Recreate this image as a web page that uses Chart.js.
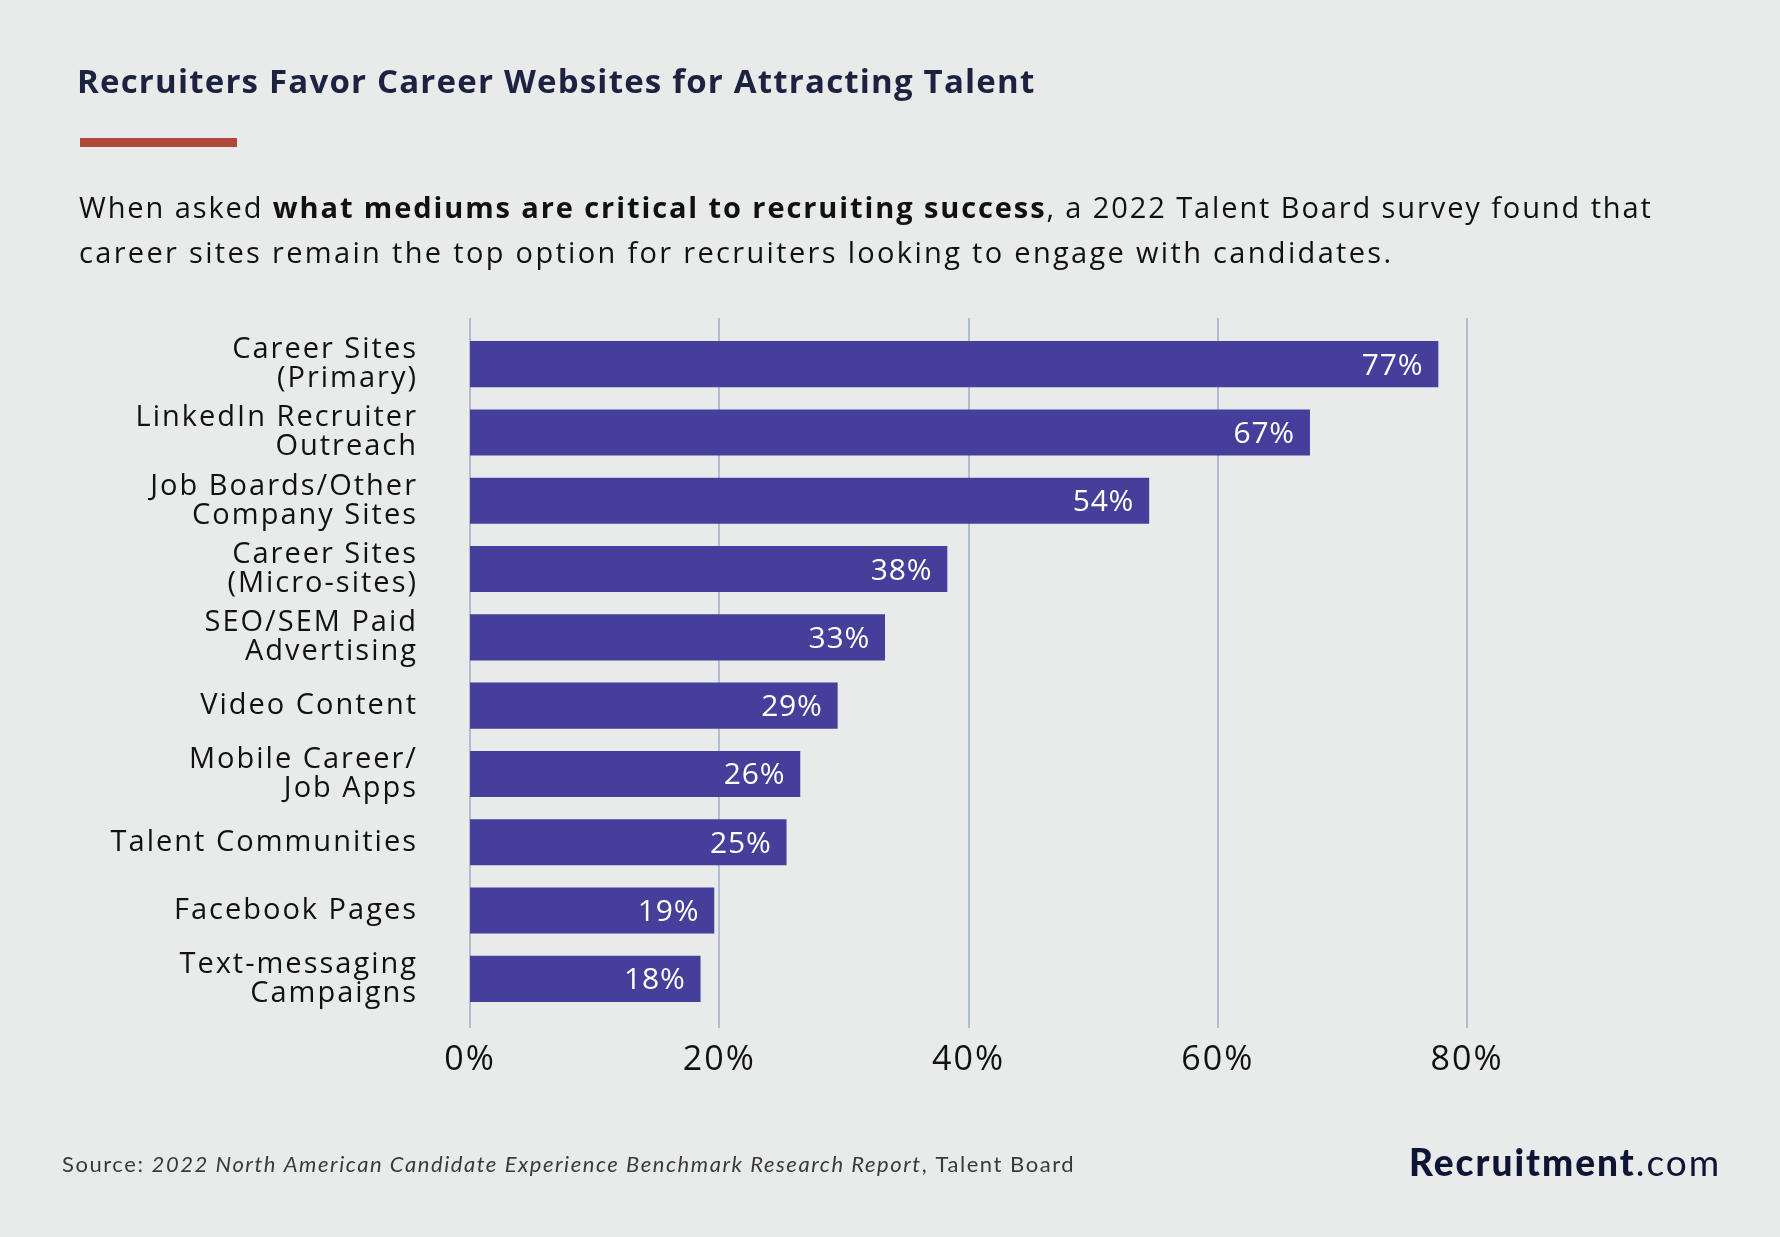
<!DOCTYPE html>
<html>
<head>
<meta charset="utf-8">
<script src="https://cdn.jsdelivr.net/npm/chart.js@4.4.1/dist/chart.umd.min.js"></script>
<style>
  html, body { margin: 0; padding: 0; background: #e9ebea; }
  #wrap { position: relative; width: 1780px; height: 1237px; }
</style>
</head>
<body>
<div id="wrap"><canvas id="chart" width="1780" height="1237"></canvas></div>
<script>
// ------------------------------------------------------------------
// Data
// ------------------------------------------------------------------
const categories = [
  ['Career Sites', '(Primary)'],
  ['LinkedIn Recruiter', 'Outreach'],
  ['Job Boards/Other', 'Company Sites'],
  ['Career Sites', '(Micro-sites)'],
  ['SEO/SEM Paid', 'Advertising'],
  'Video Content',
  ['Mobile Career/', 'Job Apps'],
  'Talent Communities',
  'Facebook Pages',
  ['Text-messaging', 'Campaigns'],
];
const barValues   = [77.7, 67.4, 54.5, 38.3, 33.3, 29.5, 26.5, 25.4, 19.6, 18.5];
const valueLabels = ['77%', '67%', '54%', '38%', '33%', '29%', '26%', '25%', '19%', '18%'];
const xTicks      = [0, 20, 40, 60, 80];

const BAR   = '#443f9b';
const GRID  = '#b3bdd2';
const INK   = '#111111';
const FONT  = '"Open Sans", "Noto Sans", sans-serif';

// Draw a row of text runs with different fonts, left to right.
function drawRuns(ctx, runs, x, y) {
  for (const r of runs) {
    ctx.font = r.font;
    ctx.fillText(r.t, x, y);
    x += ctx.measureText(r.t).width;
  }
}

// Title, subtitle, footer and logo.
const headerPlugin = {
  id: 'header',
  beforeDraw(chart) {
    const ctx = chart.ctx;
    ctx.save();
    ctx.fillStyle = '#e9ebea';
    ctx.fillRect(0, 0, chart.width, chart.height);
    ctx.textBaseline = 'alphabetic';
    ctx.textAlign = 'left';

    ctx.fillStyle = '#1d2240';
    ctx.letterSpacing = '1.2px';
    ctx.font = '700 33px ' + FONT;
    ctx.fillText('Recruiters Favor Career Websites for Attracting Talent', 77, 93);

    ctx.fillStyle = '#b0483a';
    ctx.fillRect(80, 138, 157, 9);

    ctx.fillStyle = INK;
    ctx.letterSpacing = '1.9px';
    drawRuns(ctx, [
      { t: 'When asked ', font: '400 29px ' + FONT },
      { t: 'what mediums are critical to recruiting success', font: '700 29px ' + FONT },
      { t: ', a 2022 Talent Board survey found that', font: '400 29px ' + FONT },
    ], 79, 218);
    ctx.letterSpacing = '2.32px';
    drawRuns(ctx, [
      { t: 'career sites remain the top option for recruiters looking to engage with candidates.', font: '400 29px ' + FONT },
    ], 79, 263);

    ctx.fillStyle = '#3a3a3a';
    ctx.letterSpacing = '1.55px';
    drawRuns(ctx, [
      { t: 'Source: ', font: '400 22px Lato, sans-serif' },
      { t: '2022 North American Candidate Experience Benchmark Research Report', font: 'italic 400 22px Lato, sans-serif' },
      { t: ', Talent Board', font: '400 22px Lato, sans-serif' },
    ], 62, 1172);

    ctx.fillStyle = '#0e1433';
    ctx.letterSpacing = '2px';
    drawRuns(ctx, [
      { t: 'Recruitment', font: '900 37px Lato, sans-serif' },
      { t: '.com', font: '400 37px Lato, sans-serif' },
    ], 1409, 1176);
    ctx.restore();

    // axis labels in the reference are tracked out a little
    ctx.letterSpacing = '2px';
  },
};

// Vertical gridlines that run a little past the plot area.
const gridPlugin = {
  id: 'extGrid',
  beforeDatasetsDraw(chart) {
    const { ctx, chartArea, scales } = chart;
    ctx.save();
    ctx.strokeStyle = GRID;
    ctx.lineWidth = 2;
    for (const v of xTicks) {
      const x = Math.round(scales.x.getPixelForValue(v));
      ctx.beginPath();
      ctx.moveTo(x, chartArea.top - 12);
      ctx.lineTo(x, chartArea.bottom + 15);
      ctx.stroke();
    }
    ctx.restore();
  },
};

// White percentage labels inside the bar ends.
const valuePlugin = {
  id: 'values',
  afterDatasetsDraw(chart) {
    const ctx = chart.ctx;
    const meta = chart.getDatasetMeta(0);
    ctx.save();
    ctx.fillStyle = '#ffffff';
    ctx.letterSpacing = '0.8px';
    ctx.font = '400 30px ' + FONT;
    ctx.textAlign = 'right';
    ctx.textBaseline = 'middle';
    meta.data.forEach((bar, i) => {
      ctx.fillText(valueLabels[i], bar.x - 15, bar.y + 2);
    });
    ctx.restore();
  },
};

new Chart(document.getElementById('chart'), {
  type: 'bar',
  data: {
    labels: categories,
    datasets: [{
      data: barValues,
      backgroundColor: BAR,
      borderWidth: 0,
      barPercentage: 0.675,
      categoryPercentage: 1,
    }],
  },
  options: {
    indexAxis: 'y',
    responsive: false,
    animation: false,
    layout: { padding: { top: 330, right: 313, bottom: 134, left: 0 } },
    plugins: {
      legend:  { display: false },
      tooltip: { enabled: false },
    },
    scales: {
      x: {
        min: 0,
        max: 80,
        grid:   { display: false },
        border: { display: false },
        afterBuildTicks: (s) => { s.ticks = xTicks.map(v => ({ value: v })); },
        afterFit: (s) => { s.height = 90; },
        ticks: {
          color: INK,
          padding: 19,
          font: { family: FONT, size: 34 },
          callback: (v) => v + '%',
        },
      },
      y: {
        grid:   { display: false, drawTicks: false },
        border: { display: false },
        afterFit: (s) => { s.width = 470; },
        ticks: {
          color: INK,
          padding: 52,
          font: { family: FONT, size: 29, lineHeight: 1.0 },
        },
      },
    },
  },
  plugins: [headerPlugin, gridPlugin, valuePlugin],
});
</script>
</body>
</html>
